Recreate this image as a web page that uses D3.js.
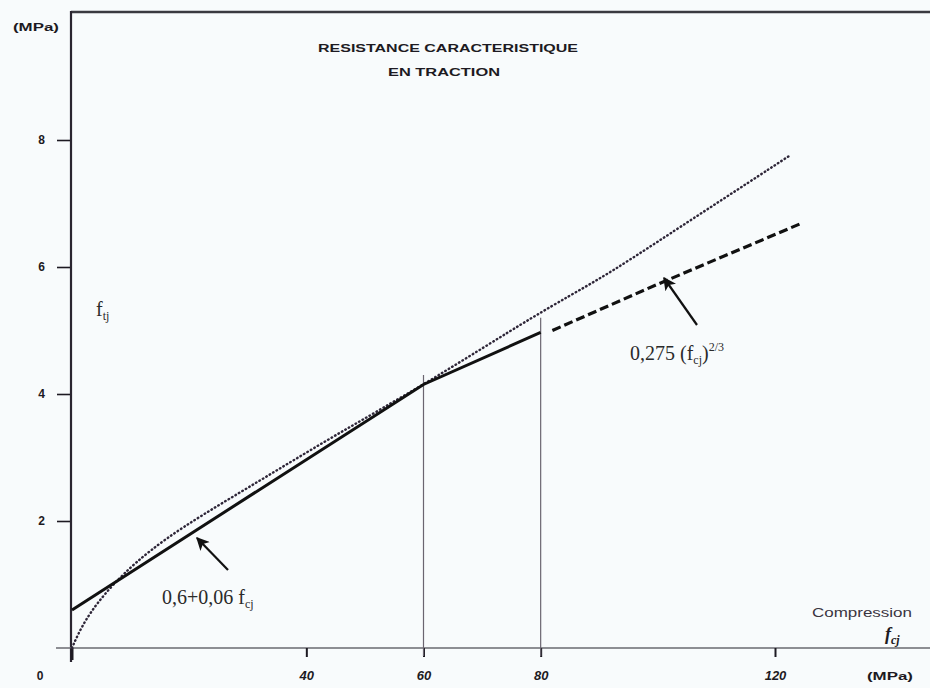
<!DOCTYPE html>
<html>
<head>
<meta charset="utf-8">
<script src="https://cdn.jsdelivr.net/npm/d3@7"></script>
<style>
  body { margin: 0; background: #f8fbfc; }
  svg { display: block; }
</style>
</head>
<body>
<div id="chart"></div>
<script>
// values (fcj in MPa, ftj in MPa)
var yTicks = [2, 4, 6, 8];
var xTicks = [40, 60, 80, 120];
var xTickLabels = ["40", "60", "80", "120"];

// 0,6 + 0,06 fcj up to 60, then on to 80 (solid)
var solid_fcj = [0, 60, 80];
var solid_ftj = [0.6, 4.15, 4.97];

// 0,275 (fcj)^2/3 beyond 80 (dashed)
var dashed_fcj = [82, 100, 124.3];
var dashed_ftj = [5.0, 5.73, 6.68];

// dotted curve
var dotted_fcj = [0, 2, 6.5, 15, 30, 45, 60.6, 80, 90, 100, 122.6];
var dotted_ftj = [0.0, 0.42, 0.98, 1.7, 2.52, 3.36, 4.17, 5.3, 5.8, 6.4, 7.76];

// vertical guide lines: [fcj, top ftj]
var guides_fcj = [60, 80];
var guides_top = [4.3, 5.2];

var width = 930, height = 688;

var svg = d3.select("#chart").append("svg")
    .attr("width", width)
    .attr("height", height);

var x = d3.scaleLinear().domain([0, 120]).range([72, 775]);
var y = d3.scaleLinear().domain([0, 8]).range([648, 140]);

var ink = "#1d1a22";
var sans = "Liberation Sans, Arial, sans-serif";
var serif = "Liberation Serif, Times New Roman, serif";

// frame: top border + y axis line
svg.append("line")
    .attr("x1", 71).attr("x2", 930).attr("y1", 12).attr("y2", 12)
    .attr("stroke", "#3a3a40").attr("stroke-width", 2.5);
svg.append("line")
    .attr("x1", 71).attr("x2", 71).attr("y1", 11).attr("y2", 662)
    .attr("stroke", "#2a2530").attr("stroke-width", 2.2);

// x axis baseline
svg.append("line")
    .attr("x1", 56).attr("x2", 930).attr("y1", y(0)).attr("y2", y(0))
    .attr("stroke", "#6a6a70").attr("stroke-width", 1.5);

// y axis ticks
var yAxis = d3.axisLeft(y).tickValues(yTicks).tickSize(13).tickPadding(12);
var gy = svg.append("g").attr("transform", "translate(70,0)").call(yAxis);
gy.select(".domain").remove();
gy.selectAll("line").attr("stroke", ink).attr("stroke-width", 1.6);
gy.selectAll("text")
    .attr("font-family", sans)
    .attr("font-weight", "bold").attr("font-size", 12).attr("fill", ink);

// x axis ticks
var xAxis = d3.axisBottom(x).tickValues(xTicks).tickSize(9).tickPadding(14)
    .tickFormat(function(d, i) { return xTickLabels[i]; });
var gx = svg.append("g").attr("transform", "translate(0," + y(0) + ")").call(xAxis);
gx.select(".domain").remove();
gx.selectAll("line").attr("stroke", ink).attr("stroke-width", 2);
gx.selectAll("text")
    .attr("font-family", sans)
    .attr("font-weight", "bold").attr("font-size", 13).attr("fill", ink)
    .attr("font-style", "italic");

// origin tick + label
svg.append("line")
    .attr("x1", x(0)).attr("x2", x(0)).attr("y1", y(0)).attr("y2", y(0) + 12)
    .attr("stroke", ink).attr("stroke-width", 3);
svg.append("text").attr("x", 40).attr("y", 680)
    .attr("text-anchor", "middle")
    .attr("font-family", sans)
    .attr("font-weight", "bold").attr("font-size", 12).attr("fill", ink)
    .text("0");

// vertical guides at 60 and 80
svg.selectAll(".guide")
    .data(guides_fcj)
  .enter().append("line")
    .attr("class", "guide")
    .attr("x1", function(d) { return x(d); })
    .attr("x2", function(d) { return x(d); })
    .attr("y1", function(d, i) { return y(guides_top[i]); })
    .attr("y2", y(0) + 8)
    .attr("stroke", "#6b6570").attr("stroke-width", 1.2);

var line = d3.line()
    .x(function(d) { return x(d[0]); })
    .y(function(d) { return y(d[1]); });

var curve = d3.line()
    .curve(d3.curveBasis)
    .x(function(d) { return x(d[0]); })
    .y(function(d) { return y(d[1]); });

// dotted
svg.append("path")
    .datum(d3.zip(dotted_fcj, dotted_ftj))
    .attr("d", curve)
    .attr("fill", "none")
    .attr("stroke", "#2e2638")
    .attr("stroke-width", 2.4)
    .attr("stroke-linecap", "round")
    .attr("stroke-dasharray", "0.6,3.4");

// solid
svg.append("path")
    .datum(d3.zip(solid_fcj, solid_ftj))
    .attr("d", line)
    .attr("fill", "none")
    .attr("stroke", "#111")
    .attr("stroke-width", 3);

// dashed
svg.append("path")
    .datum(d3.zip(dashed_fcj, dashed_ftj))
    .attr("d", line)
    .attr("fill", "none")
    .attr("stroke", "#111")
    .attr("stroke-width", 3.2)
    .attr("stroke-dasharray", "9,4");

// arrows
var defs = svg.append("defs");
defs.append("marker")
    .attr("id", "head")
    .attr("viewBox", "0 0 10 10")
    .attr("refX", 9).attr("refY", 5)
    .attr("markerWidth", 15).attr("markerHeight", 13)
    .attr("markerUnits", "userSpaceOnUse")
    .attr("orient", "auto")
  .append("path")
    .attr("d", "M0,0 L10,5 L0,10 L2.5,5 Z")
    .attr("fill", "#111");

svg.append("line")
    .attr("x1", 697).attr("y1", 325).attr("x2", 664).attr("y2", 278)
    .attr("stroke", "#111").attr("stroke-width", 2.2)
    .attr("marker-end", "url(#head)");
svg.append("line")
    .attr("x1", 228).attr("y1", 570).attr("x2", 197).attr("y2", 538)
    .attr("stroke", "#111").attr("stroke-width", 2.2)
    .attr("marker-end", "url(#head)");

// headings and labels
svg.append("text").attr("x", 36).attr("y", 31)
    .attr("text-anchor", "middle")
    .attr("font-family", sans).attr("font-weight", "bold").attr("font-size", 10)
    .attr("textLength", 46).attr("lengthAdjust", "spacingAndGlyphs")
    .attr("fill", ink).text("(MPa)");

svg.append("text").attr("x", 318).attr("y", 52)
    .attr("font-family", sans).attr("font-weight", "bold").attr("font-size", 11.5)
    .attr("textLength", 260).attr("lengthAdjust", "spacingAndGlyphs")
    .attr("fill", ink).text("RESISTANCE CARACTERISTIQUE");
svg.append("text").attr("x", 388).attr("y", 76)
    .attr("font-family", sans).attr("font-weight", "bold").attr("font-size", 11.5)
    .attr("textLength", 112).attr("lengthAdjust", "spacingAndGlyphs")
    .attr("fill", ink).text("EN TRACTION");

var ftj = svg.append("text").attr("x", 96).attr("y", 316)
    .attr("font-family", serif).attr("font-size", 20).attr("fill", "#2a2a2a");
ftj.append("tspan").text("f");
ftj.append("tspan").attr("font-size", 12).attr("dy", 4).text("tj");

var lab1 = svg.append("text").attr("x", 630).attr("y", 360)
    .attr("font-family", serif).attr("font-size", 20).attr("fill", "#2a2a2a");
lab1.append("tspan").text("0,275 (f");
lab1.append("tspan").attr("font-size", 12).attr("dy", 4).text("cj");
lab1.append("tspan").attr("dy", -4).text(")");
lab1.append("tspan").attr("font-size", 12).attr("dy", -9).text("2/3");

var lab2 = svg.append("text").attr("x", 162).attr("y", 604)
    .attr("font-family", serif).attr("font-size", 20).attr("fill", "#2a2a2a");
lab2.append("tspan").text("0,6+0,06 f");
lab2.append("tspan").attr("font-size", 12).attr("dy", 4).text("cj");

svg.append("text").attr("x", 812).attr("y", 617)
    .attr("font-family", sans).attr("font-size", 12).attr("fill", "#3a3440")
    .attr("textLength", 100).attr("lengthAdjust", "spacingAndGlyphs")
    .text("Compression");

var fcj = svg.append("text").attr("x", 885).attr("y", 640)
    .attr("font-family", serif).attr("font-weight", "bold").attr("font-style", "italic")
    .attr("font-size", 18).attr("fill", ink);
fcj.append("tspan").text("f");
fcj.append("tspan").attr("font-size", 12).attr("dy", 4).text("cj");

svg.append("text").attr("x", 867).attr("y", 680)
    .attr("font-family", sans).attr("font-weight", "bold").attr("font-size", 10)
    .attr("textLength", 46).attr("lengthAdjust", "spacingAndGlyphs")
    .attr("fill", ink).text("(MPa)");
</script>
</body>
</html>
